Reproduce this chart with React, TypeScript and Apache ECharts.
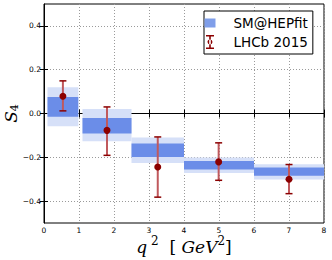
import React, { useEffect, useRef } from "react";
import * as echarts from "echarts";

const binLow = [0.1, 1.1, 2.5, 4, 6];
const binHigh = [0.98, 2.5, 4, 6, 8];
const smOuterLow = [-0.058, -0.127, -0.226, -0.272, -0.301];
const smOuterHigh = [0.12, 0.02, -0.11, -0.201, -0.232];
const smInnerLow = [-0.015, -0.091, -0.199, -0.256, -0.284];
const smInnerHigh = [0.075, -0.02, -0.137, -0.217, -0.247];

const lhcbX = [0.54, 1.8, 3.25, 4.99, 7.0];
const lhcbY = [0.079, -0.077, -0.244, -0.221, -0.3];
const lhcbErrLow = [0.012, -0.191, -0.382, -0.305, -0.366];
const lhcbErrHigh = [0.149, 0.03, -0.107, -0.134, -0.233];

const xTicks = [0, 1, 2, 3, 4, 5, 6, 7, 8];
const yTicks = [-0.4, -0.2, 0.0, 0.2, 0.4];

const DARK_BLUE = "#6b8de8";
const LIGHT_BLUE = "#d6e0f8";
const DARK_RED = "#8b0000";
const LINE_RED = "#c0595d";

const bandRender = (color: string) => (params: any, api: any) => {
  const x0 = api.value(0);
  const x1 = api.value(1);
  const lo = api.value(2);
  const hi = api.value(3);
  const p0 = api.coord([x0, hi]);
  const p1 = api.coord([x1, lo]);
  return {
    type: "rect",
    shape: { x: p0[0], y: p0[1], width: p1[0] - p0[0], height: p1[1] - p0[1] },
    style: { fill: color },
  };
};

const errRender = (params: any, api: any) => {
  const x = api.value(0);
  const lo = api.value(1);
  const hi = api.value(2);
  const pt = api.coord([x, hi]);
  const pb = api.coord([x, lo]);
  const cw = 3.5;
  return {
    type: "group",
    children: [
      {
        type: "line",
        shape: { x1: pt[0], y1: pt[1], x2: pb[0], y2: pb[1] },
        style: { stroke: LINE_RED, lineWidth: 2 },
      },
      {
        type: "line",
        shape: { x1: pt[0] - cw, y1: pt[1], x2: pt[0] + cw, y2: pt[1] },
        style: { stroke: DARK_RED, lineWidth: 1.5 },
      },
      {
        type: "line",
        shape: { x1: pb[0] - cw, y1: pb[1], x2: pb[0] + cw, y2: pb[1] },
        style: { stroke: DARK_RED, lineWidth: 1.5 },
      },
    ],
  };
};

export default function App() {
  const ref = useRef<HTMLDivElement>(null);
  useEffect(() => {
    if (!ref.current) return;
    const chart = echarts.init(ref.current, null, { renderer: "svg" });
    const tickFont = { fontFamily: "DejaVu Sans", fontSize: 7.5, color: "#000" };
    const split = { show: true, lineStyle: { color: "#9a9a9a", width: 1, type: [1, 2] as any } };
    const option: any = {
      animation: false,
      backgroundColor: "#fff",
      grid: {
        left: 44,
        top: 4,
        width: 280,
        height: 219,
        show: true,
        borderColor: "#000",
        borderWidth: 1,
        backgroundColor: "transparent",
        outerBoundsMode: "none",
        containLabel: false,
      },
      legend: {
        show: true,
        orient: "vertical",
        left: 204,
        top: 11,
        padding: [5, 5, 5, 0],
        itemGap: 5,
        itemWidth: 37,
        itemHeight: 14,
        borderColor: "#000",
        borderWidth: 1,
        borderRadius: 0,
        backgroundColor: "#fff",
        selectedMode: false,
        textStyle: { fontFamily: "DejaVu Sans", fontSize: 13.5, color: "#000", padding: [0, 0, 0, 0] },
        data: [
          {
            name: "SM@HEPfit",
            icon: "path://M0,0M12,14M0.5,2.5h11v9h-11z",
            itemStyle: { color: "#7f9ee9" },
          },
          {
            name: "LHCb 2015",
            icon: "path://M0,0H8V1.4H0Z M3.2,1H4.8V13H3.2Z M0,12.6H8V14H0Z M4,4.5A2.5,2.5 0 1 0 4,9.5A2.5,2.5 0 1 0 4,4.5Z",
            itemStyle: { color: DARK_RED },
          },
        ],
      },
      xAxis: [
        {
          type: "value",
          min: 0,
          max: 8,
          interval: 1,
          position: "bottom",
          axisLine: { show: true, lineStyle: { color: "#000", width: 1 } },
          axisTick: { show: true, inside: true, length: 4, lineStyle: { color: "#000" } },
          axisLabel: { ...tickFont, margin: 3, customValues: xTicks, formatter: (v: number) => String(v) },
          splitLine: split,
          name: "{i|q}{sup| 2}{n|  [ }{i|GeV}{sup|2}{n|]}",
          nameLocation: "middle",
          nameGap: 12,
          nameMoveOverlap: false,
          nameTextStyle: {
            rich: {
              i: { fontFamily: "DejaVu Serif", fontStyle: "italic", fontSize: 17, color: "#000" },
              n: { fontFamily: "DejaVu Serif", fontSize: 17, color: "#000" },
              sup: { fontFamily: "DejaVu Serif", fontSize: 12, color: "#000", padding: [0, 0, 12, 0] },
            },
          },
        },
        {
          type: "value",
          min: 0,
          max: 8,
          interval: 1,
          position: "top",
          axisLine: { show: false },
          axisTick: { show: true, inside: true, length: 4, lineStyle: { color: "#000" } },
          axisLabel: { show: false },
          splitLine: { show: false },
        },
      ],
      yAxis: [
        {
          type: "value",
          min: -0.5,
          max: 0.5,
          position: "left",
          axisLine: { show: true, lineStyle: { color: "#000", width: 1 } },
          axisTick: { show: true, inside: true, length: 4, customValues: yTicks, lineStyle: { color: "#000" } },
          axisLabel: {
            ...tickFont,
            margin: 3,
            customValues: yTicks,
            formatter: (v: number) => (v < 0 ? "\u2212" : "") + Math.abs(v).toFixed(1),
          },
          splitLine: split,
          name: "{i|S}{sub|4}",
          nameLocation: "middle",
          nameRotate: 90,
          nameGap: 24,
          nameMoveOverlap: false,
          nameTextStyle: {
            rich: {
              i: { fontFamily: "DejaVu Serif", fontStyle: "italic", fontSize: 17, color: "#000" },
              sub: { fontFamily: "DejaVu Serif", fontSize: 11, color: "#000", padding: [7, 0, 0, 0] },
            },
          },
        },
        {
          type: "value",
          min: -0.5,
          max: 0.5,
          position: "right",
          axisLine: { show: false },
          axisTick: { show: true, inside: true, length: 4, customValues: yTicks, lineStyle: { color: "#000" } },
          axisLabel: { show: false, customValues: yTicks },
          splitLine: { show: false },
        },
      ],
      series: [
        {
          name: "SM outer",
          type: "custom",
          renderItem: bandRender(LIGHT_BLUE),
          encode: { x: [0, 1], y: [2, 3] },
          data: binLow.map((b, i) => [b, binHigh[i], smOuterLow[i], smOuterHigh[i]]),
          z: 2,
        },
        {
          name: "SM@HEPfit",
          type: "custom",
          renderItem: bandRender(DARK_BLUE),
          encode: { x: [0, 1], y: [2, 3] },
          itemStyle: { color: DARK_BLUE },
          data: binLow.map((b, i) => [b, binHigh[i], smInnerLow[i], smInnerHigh[i]]),
          z: 3,
        },
        {
          name: "LHCb 2015",
          type: "custom",
          renderItem: errRender,
          encode: { x: 0, y: [1, 2] },
          itemStyle: { color: DARK_RED },
          data: lhcbX.map((x, i) => [x, lhcbErrLow[i], lhcbErrHigh[i]]),
          z: 4,
        },
        {
          name: "LHCb 2015",
          type: "scatter",
          symbol: "circle",
          symbolSize: 7,
          itemStyle: { color: DARK_RED, opacity: 1 },
          data: lhcbX.map((x, i) => [x, lhcbY[i]]),
          z: 5,
        },
      ],
    };
    chart.setOption(option);
    return () => chart.dispose();
  }, []);
  return <div ref={ref} style={{ width: 332, height: 260, position: "absolute", left: 0, top: 0 }} />;
}
